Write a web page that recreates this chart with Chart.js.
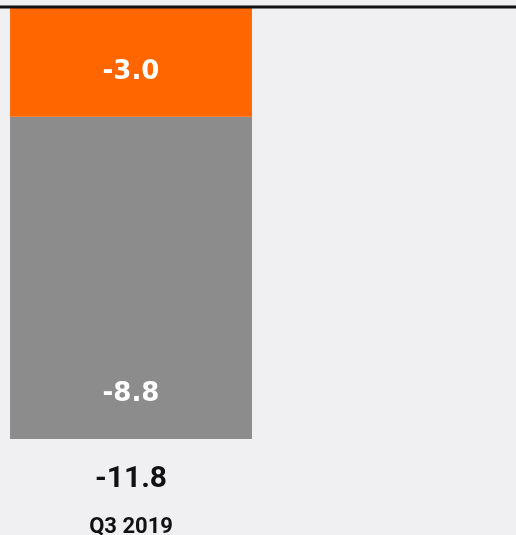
<!DOCTYPE html>
<html>
<head>
<meta charset="utf-8">
<script src="https://cdn.jsdelivr.net/npm/chart.js@4/dist/chart.umd.min.js"></script>
<style>
html,body{margin:0;padding:0;background:#f0f0f2;}
#wrap{position:relative;width:516px;height:535px;}
</style>
</head>
<body>
<div id="wrap"><canvas id="c" width="516" height="535"></canvas></div>
<script>
const categories = ['Q3 2019'];
const orangeValues = [-3.0];
const greyValues = [-8.8];
const totals = [-11.8];

const labelPlugin = {
  id: 'labels',
  afterDatasetsDraw(chart) {
    const ctx = chart.ctx;
    const y = chart.scales.y;
    ctx.save();
    const y0 = y.getPixelForValue(0);
    ctx.strokeStyle = '#111';
    ctx.lineWidth = 3;
    ctx.beginPath();
    ctx.moveTo(0, y0);
    ctx.lineTo(chart.width, y0);
    ctx.stroke();
    ctx.textAlign = 'center';
    ctx.textBaseline = 'middle';
    chart.data.datasets.forEach((ds, di) => {
      const meta = chart.getDatasetMeta(di);
      meta.data.forEach((bar, i) => {
        const v = ds.data[i];
        ctx.fillStyle = '#ffffff';
        ctx.font = 'bold 26px "DejaVu Sans"';
        ctx.fillText(v.toFixed(1), bar.x, bar.y - 45);
      });
    });
    const last = chart.getDatasetMeta(chart.data.datasets.length - 1);
    last.data.forEach((bar, i) => {
      ctx.fillStyle = '#111';
      ctx.font = 'bold 30px Roboto';
      ctx.fillText(totals[i].toFixed(1), bar.x, bar.y + 40);
    });
    ctx.restore();
  }
};

new Chart(document.getElementById('c'), {
  type: 'bar',
  data: {
    labels: categories,
    datasets: [
      { label: 'A', data: orangeValues, backgroundColor: '#ff6600', borderWidth: 0 },
      { label: 'B', data: greyValues, backgroundColor: '#8c8c8c', borderWidth: 0 }
    ]
  },
  options: {
    responsive: false,
    animation: false,
    layout: { padding: { top: 7, left: 3, right: 257, bottom: -3 } },
    plugins: { legend: { display: false }, tooltip: { enabled: false } },
    scales: {
      x: {
        stacked: true,
        grid: { display: false, drawTicks: false },
        border: { display: false },
        ticks: { color: '#111', font: { family: 'Roboto', size: 22, weight: 'bold', lineHeight: 1 }, padding: 0 }
      },
      y: {
        stacked: true,
        min: -13.9,
        max: 0,
        display: false
      }
    },
    datasets: { bar: { barPercentage: 0.945, categoryPercentage: 1 } }
  },
  plugins: [labelPlugin]
});
</script>
</body>
</html>
